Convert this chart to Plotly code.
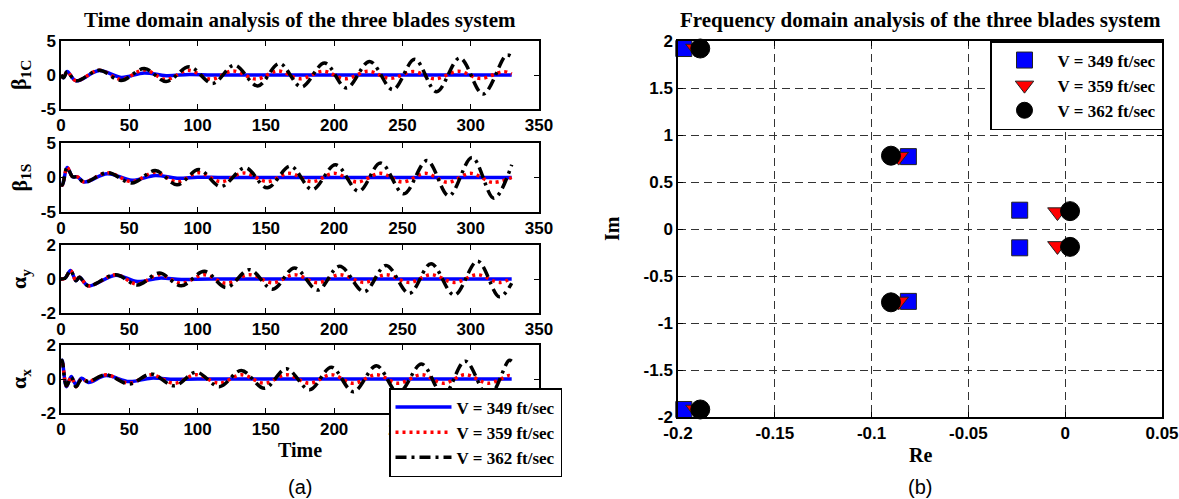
import plotly.graph_objects as go

# ---------------- time-domain data ----------------
T_B1C_349 = [0, 2, 4.5, 11, 28, 44, 61, 77, 94, 110, 130, 330]
B1C_349 = [0, -0.4, 0.5, -0.85, 0.65, -0.35, 0.3, -0.1, 0.08, 0, 0, 0]
T_B1C_359 = [0, 2, 4.5, 11, 28, 44, 61, 77, 93, 110, 126, 143, 159, 175, 192, 208, 225, 241, 258, 274, 291, 307, 324, 330]
B1C_359 = [0, -0.4, 0.5, -0.85, 0.7, -0.65, 0.75, -0.65, 0.7, -0.6, 0.6, -0.6, 0.6, -0.55, 0.55, -0.55, 0.55, -0.5, 0.5, -0.55, 0.55, -0.5, 0.5, 0.15]
T_B1C_362 = [0, 2, 4.5, 11, 28, 44, 61, 77, 94, 111, 127, 144, 160, 176, 193, 209, 226, 243, 259, 275, 292, 309, 326, 330]
B1C_362 = [0, -0.4, 0.5, -0.85, 0.7, -0.8, 0.95, -0.95, 1.2, -1.25, 1.45, -1.6, 1.7, -1.75, 1.75, -1.9, 2.0, -2.15, 2.3, -2.45, 2.5, -2.8, 2.9, 2.7]

T_B1S_349 = [0, 1, 4.5, 8.5, 12, 17, 34, 52, 69, 85, 100, 120, 330]
B1S_349 = [-0.9, -1.1, 1.45, 0.1, 0.1, -0.65, 0.55, -0.4, 0.3, -0.1, 0.05, 0, 0]
T_B1S_359 = [0, 1, 4.5, 8.5, 12, 17, 34, 52, 69, 85, 101, 117, 134, 151, 167, 184, 200, 217, 234, 250, 267, 283, 300, 316, 330]
B1S_359 = [-0.9, -1.1, 1.45, 0.1, 0.1, -0.65, 0.7, -0.6, 0.75, -0.65, 0.7, -0.6, 0.65, -0.6, 0.6, -0.6, 0.6, -0.65, 0.6, -0.65, 0.6, -0.7, 0.6, -0.7, 0.0]
T_B1S_362 = [0, 1, 4.5, 8.5, 12, 17, 34, 52, 69, 85, 101, 117, 135, 151, 168, 184, 201, 218, 234, 251, 268, 284, 301, 317, 330]
B1S_362 = [-0.9, -1.1, 1.45, 0.1, 0.1, -0.7, 0.7, -0.8, 1.0, -1.05, 1.15, -1.3, 1.4, -1.5, 1.65, -1.75, 1.85, -2.0, 2.1, -2.35, 2.45, -2.65, 2.9, -3.0, 1.85]

T_AY_349 = [0, 3, 7, 11, 13.5, 20, 40, 56, 72, 88, 110, 330]
AY_349 = [0, 0.05, 0.5, -0.1, 0.1, -0.4, 0.22, -0.15, 0.05, -0.03, 0, 0]
T_AY_359 = [0, 3, 7, 11, 13.5, 20, 40, 56, 72, 88, 105, 121, 138, 155, 171, 188, 204, 222, 238, 255, 271, 288, 305, 321, 330]
AY_359 = [0, 0.05, 0.5, -0.1, 0.1, -0.4, 0.25, -0.3, 0.25, -0.25, 0.25, -0.25, 0.25, -0.22, 0.25, -0.22, 0.25, -0.2, 0.25, -0.2, 0.25, -0.2, 0.25, -0.2, 0.05]
T_AY_362 = [0, 3, 7, 11, 13.5, 20, 40, 56, 72, 88, 105, 121, 138, 155, 171, 188, 204, 222, 238, 255, 271, 288, 305, 321, 330]
AY_362 = [0, 0.05, 0.5, -0.1, 0.1, -0.4, 0.25, -0.35, 0.35, -0.4, 0.45, -0.5, 0.55, -0.6, 0.65, -0.65, 0.75, -0.75, 0.8, -0.85, 0.9, -0.95, 1.05, -1.05, -0.25]

T_AX_349 = [0, 0.8, 4, 7.5, 11, 15, 20, 33, 50, 66, 83, 100, 330]
AX_349 = [0.9, 1.1, -0.45, 0.15, -0.35, 0.05, -0.2, 0.2, -0.15, 0.05, -0.02, 0, 0]
T_AX_359 = [0, 0.8, 4, 7.5, 11, 15, 20, 33, 50, 66, 83, 99, 116, 132, 149, 165, 182, 198, 214, 231, 247, 264, 280, 296, 313, 328, 330]
AX_359 = [0.9, 1.1, -0.4, 0.1, -0.45, 0.0, -0.15, 0.25, -0.25, 0.25, -0.25, 0.25, -0.25, 0.25, -0.25, 0.25, -0.25, 0.25, -0.25, 0.25, -0.25, 0.25, -0.25, 0.25, -0.25, 0.2, 0.15]
T_AX_362 = [0, 0.8, 4, 7.5, 11, 15, 20, 33, 50, 66, 83, 99, 116, 132, 149, 165, 182, 198, 214, 231, 247, 264, 280, 296, 313, 328, 330]
AX_362 = [0.9, 1.1, -0.4, 0.1, -0.45, 0.0, -0.15, 0.25, -0.3, 0.3, -0.4, 0.4, -0.45, 0.5, -0.55, 0.6, -0.63, 0.69, -0.75, 0.78, -0.82, 0.88, -0.95, 1.05, -1.05, 1.1, 1.05]

# ---------------- frequency-domain data (poles) ----------------
RE_349 = [-0.197, -0.197, -0.081, -0.081, -0.0235, -0.0235]
IM_349 = [1.92, -1.92, 0.77, -0.77, 0.2, -0.2]
RE_359 = [-0.191, -0.191, -0.086, -0.086, -0.004, -0.004]
IM_359 = [1.92, -1.92, 0.77, -0.77, 0.18, -0.18]
RE_362 = [-0.1885, -0.1885, -0.0900, -0.0900, 0.0025, 0.0025]
IM_362 = [1.92, -1.92, 0.78, -0.78, 0.19, -0.19]

SERIES_NAMES = ["V = 349 ft/sec", "V = 359 ft/sec", "V = 362 ft/sec"]
YLABELS = ["β<sub>1C</sub>", "β<sub>1S</sub>", "α<sub>y</sub>", "α<sub>x</sub>"]
YLIMS = [5, 5, 2, 2]
XT_LEFT = [0, 50, 100, 150, 200, 250, 300, 350]
RE_TICKS = [-0.2, -0.15, -0.1, -0.05, 0, 0.05]
RE_TICKTEXT = ["-0.2", "-0.15", "-0.1", "-0.05", "0", "0.05"]
IM_TICKS = [-2, -1.5, -1, -0.5, 0, 0.5, 1, 1.5, 2]
IM_TICKTEXT = ["-2", "-1.5", "-1", "-0.5", "0", "0.5", "1", "1.5", "2"]

W, H = 1179, 499
def px_x(p): return p / W
def px_y(p): return 1 - p / H

panels = [
    (T_B1C_349, B1C_349, T_B1C_359, B1C_359, T_B1C_362, B1C_362),
    (T_B1S_349, B1S_349, T_B1S_359, B1S_359, T_B1S_362, B1S_362),
    (T_AY_349, AY_349, T_AY_359, AY_359, T_AY_362, AY_362),
    (T_AX_349, AX_349, T_AX_359, AX_359, T_AX_362, AX_362),
]
boxes = [(41, 109), (143, 212), (245, 313), (345, 413)]
LX0, LX1 = 61, 539

TICKFONT = dict(family="Liberation Sans", size=17, color="black", weight="bold")
SERIF = "Liberation Serif"

fig = go.Figure()
styles = [
    dict(color="#0000ff", width=3.5, dash="solid"),
    dict(color="#ff0000", width=3.5, dash="3px,4px"),
    dict(color="#000000", width=3.5, dash="11px,5px,3px,5px"),
]

layout = dict(
    template="none",
    width=W, height=H, margin=dict(l=0, r=0, t=0, b=0, autoexpand=False),
    paper_bgcolor="white", plot_bgcolor="white", showlegend=True,
)
annotations = []

def note(text, x, y, size, family=SERIF, angle=0):
    return dict(text=text, x=px_x(x), y=px_y(y), xref="paper", yref="paper",
                xanchor="center", yanchor="middle", showarrow=False,
                textangle=angle, font=dict(family=family, size=size, color="black"))

for i, (pan, (top, bot)) in enumerate(zip(panels, boxes)):
    n = i + 1
    xa = "x" if n == 1 else f"x{n}"
    ya = "y" if n == 1 else f"y{n}"
    for k in range(3):
        tx, vy = pan[2 * k], pan[2 * k + 1]
        fig.add_trace(go.Scatter(
            x=tx, y=vy, mode="lines", name=SERIES_NAMES[k],
            line=dict(shape="spline", **styles[k]),
            xaxis=xa, yaxis=ya, legend="legend", legendgroup=f"g{k}",
            showlegend=(n == 4),
        ))
    lim = YLIMS[i]
    layout[f"xaxis{'' if n == 1 else n}"] = dict(
        domain=[px_x(LX0), px_x(LX1)], anchor=ya, range=[0, 350], automargin=False,
        tickvals=XT_LEFT, ticks="inside", ticklen=5, tickcolor="black",
        showline=True, linecolor="black", linewidth=1.5, mirror="ticks",
        showgrid=False, zeroline=False, tickfont=TICKFONT, fixedrange=True,
    )
    layout[f"yaxis{'' if n == 1 else n}"] = dict(
        domain=[px_y(bot), px_y(top)], anchor=xa, range=[-lim, lim], automargin=False,
        tickvals=[-lim, 0, lim], ticktext=[f"-{lim}", "0", f"{lim}"],
        ticks="inside", ticklen=5, tickcolor="black",
        showline=True, linecolor="black", linewidth=1.5, mirror="ticks",
        showgrid=False, zeroline=False, tickfont=TICKFONT, fixedrange=True,
    )
    annotations.append(note(f"<b>{YLABELS[i]}</b>", 20, (top + bot) / 2, 22, angle=-90))

# right panel
RX0, RX1, RY0, RY1 = 678, 1162, 41, 417
marker_specs = [
    (RE_349, IM_349, dict(symbol="square", size=16, color="#0000ff", line=dict(color="#222", width=1))),
    (RE_359, IM_359, dict(symbol="triangle-down", size=17, color="#ff0000", line=dict(color="#222", width=1))),
    (RE_362, IM_362, dict(symbol="circle", size=19, color="#000000", line=dict(color="#000", width=1))),
]
for k, (rx, iy, mk) in enumerate(marker_specs):
    fig.add_trace(go.Scatter(
        x=rx, y=iy, mode="markers", name=SERIES_NAMES[k], marker=mk,
        xaxis="x5", yaxis="y5", legend="legend2", legendgroup=f"m{k}",
        cliponaxis=False,
    ))
layout["xaxis5"] = dict(
    domain=[px_x(RX0), px_x(RX1)], anchor="y5", range=[-0.2, 0.05], automargin=False,
    tickvals=RE_TICKS, ticktext=RE_TICKTEXT, ticks="inside", ticklen=5,
    tickcolor="black", showline=True, linecolor="black", linewidth=1.5,
    mirror="ticks", showgrid=True, gridcolor="#333", griddash="8px,5px",
    gridwidth=1, zeroline=False, tickfont=TICKFONT, fixedrange=True,
)
layout["yaxis5"] = dict(
    domain=[px_y(RY1), px_y(RY0)], anchor="x5", range=[-2, 2], automargin=False,
    tickvals=IM_TICKS, ticktext=IM_TICKTEXT, ticks="inside", ticklen=5,
    tickcolor="black", showline=True, linecolor="black", linewidth=1.5,
    mirror="ticks", showgrid=True, gridcolor="#333", griddash="8px,5px",
    gridwidth=1, zeroline=False, tickfont=TICKFONT, fixedrange=True,
)

LEGFONT = dict(family=SERIF, size=17, color="black", weight="bold")
layout["legend"] = dict(
    x=px_x(389), y=px_y(388), xanchor="left", yanchor="top",
    bgcolor="white", bordercolor="black", borderwidth=1.5, itemwidth=56,
    font=LEGFONT, traceorder="grouped", tracegroupgap=0,
)
layout["legend2"] = dict(
    x=px_x(1163), y=px_y(41), xanchor="right", yanchor="top",
    bgcolor="white", bordercolor="black", borderwidth=1.5, itemwidth=56,
    font=LEGFONT, traceorder="grouped", tracegroupgap=0,
)

annotations += [
    note("<b>Time domain analysis of the three blades system</b>", 300, 20, 21),
    note("<b>Frequency domain analysis of the three blades system</b>", 920, 20, 21),
    note("<b>Time</b>", 300, 450, 20),
    note("<b>Re</b>", 920, 455, 20),
    note("<b>Im</b>", 612, 229, 20, angle=-90),
    note("(a)", 300, 487, 20, family="Liberation Sans"),
    note("(b)", 920, 487, 20, family="Liberation Sans"),
]
layout["annotations"] = annotations
fig.update_layout(**layout)

fig.write_html("out.html")
